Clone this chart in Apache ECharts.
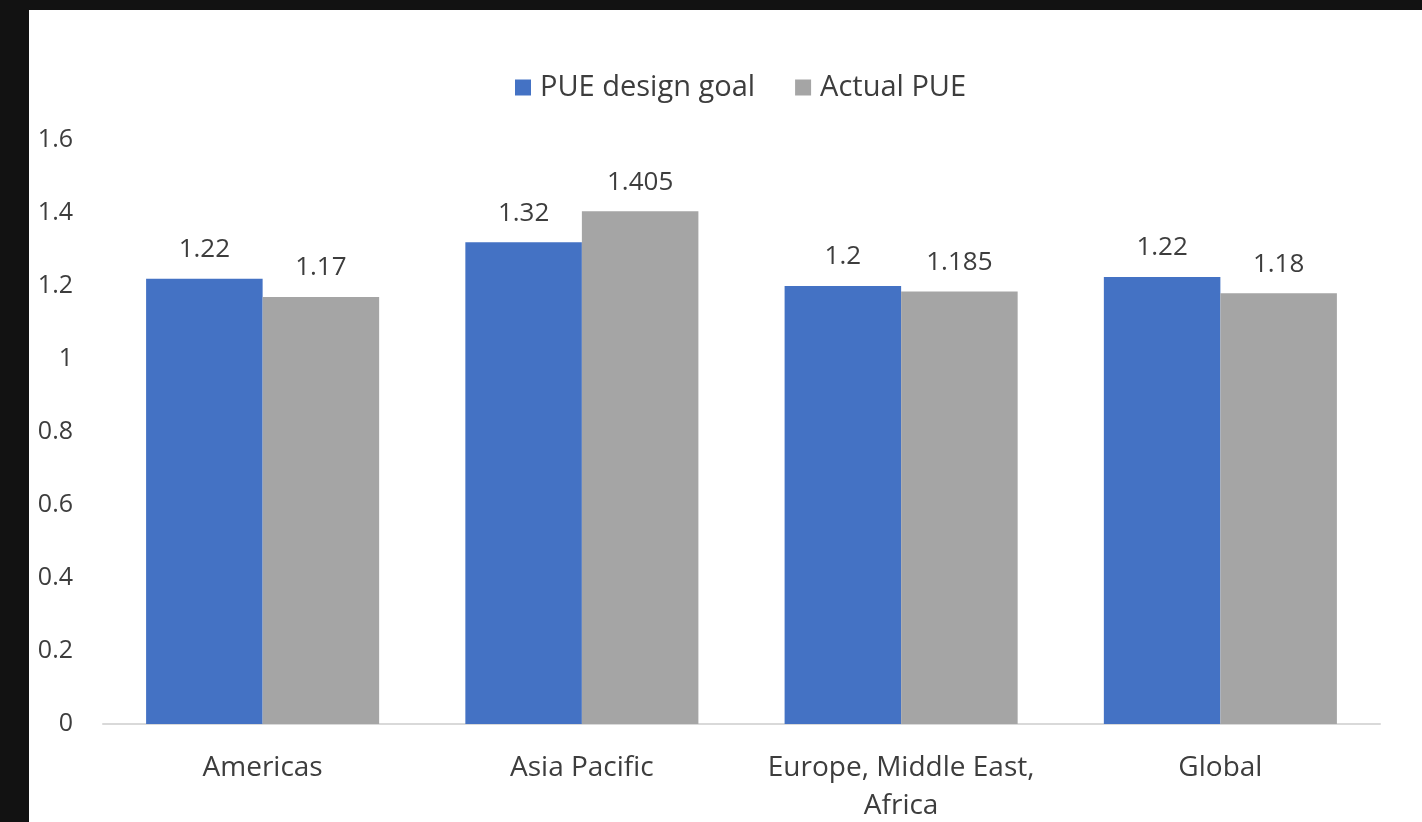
<!DOCTYPE html>
<html lang="en">
<head>
    <meta charset="UTF-8">
    <title>PUE by region</title>
    <script type="text/javascript" src="https://cdn.jsdelivr.net/npm/echarts@6/dist/echarts.min.js"></script>
    <style>
        html, body { margin: 0; padding: 0; background: #121212; width: 1422px; height: 822px; overflow: hidden; }
        #main { position: absolute; left: 29px; top: 10px; width: 1393px; height: 812px; background: #ffffff; }
    </style>
</head>
<body>
<div id="main"></div>

<script>
    var categories = ['Americas', 'Asia Pacific', 'Europe, Middle East,\nAfrica', 'Global'];
    var designGoal = [1.22, 1.32, 1.2, 1.225];
    var designGoalLabels = ['1.22', '1.32', '1.2', '1.22'];
    var actualPue = [1.17, 1.405, 1.185, 1.18];
    var actualPueLabels = ['1.17', '1.405', '1.185', '1.18'];
    var yTicks = [0, 0.2, 0.4, 0.6, 0.8, 1, 1.2, 1.4, 1.6];

    var myChart = echarts.init(document.getElementById('main'));
    var fontFamily = '"Open Sans", "Noto Sans", sans-serif';
    var textColor = '#3d3d3d';

    var labelStyle = function (texts) {
        return {
            show: true,
            position: 'top',
            distance: 16,
            color: textColor,
            fontSize: 26,
            fontFamily: fontFamily,
            formatter: function (p) { return texts[p.dataIndex]; }
        };
    };

    option = {
        textStyle: { fontFamily: fontFamily },
        legend: {
            left: 481,
            top: 58,
            itemWidth: 16,
            itemHeight: 16,
            itemGap: 40,
            icon: 'rect',
            textStyle: { color: textColor, fontSize: 29, fontFamily: fontFamily, padding: [0, 0, 0, 4] },
            data: ['PUE design goal', 'Actual PUE']
        },
        grid: {
            left: 74,
            right: 42,
            top: 130,
            bottom: 98,
            outerBoundsMode: 'none'
        },
        xAxis: {
            type: 'category',
            data: categories,
            axisLine: { lineStyle: { color: '#d9d9d9', width: 2 } },
            axisTick: { show: false },
            axisLabel: {
                interval: 0,
                color: textColor,
                fontSize: 28,
                lineHeight: 38,
                margin: 25,
                fontFamily: fontFamily
            }
        },
        yAxis: {
            type: 'value',
            min: yTicks[0],
            max: yTicks[yTicks.length - 1],
            interval: 0.2,
            axisLine: { show: false },
            axisTick: { show: false },
            splitLine: { show: false },
            axisLabel: {
                color: textColor,
                fontSize: 25,
                margin: 30,
                fontFamily: fontFamily,
                formatter: function (v) { return String(Math.round(v * 10) / 10); }
            }
        },
        series: [
            {
                name: 'PUE design goal',
                type: 'bar',
                data: designGoal,
                barGap: '0%',
                barCategoryGap: '27%',
                itemStyle: { color: '#4472c4' },
                label: labelStyle(designGoalLabels)
            },
            {
                name: 'Actual PUE',
                type: 'bar',
                data: actualPue,
                barGap: '0%',
                barCategoryGap: '27%',
                itemStyle: { color: '#a5a5a5' },
                label: labelStyle(actualPueLabels)
            }
        ]
    };

    myChart.setOption(option);
</script>
</body>
</html>
